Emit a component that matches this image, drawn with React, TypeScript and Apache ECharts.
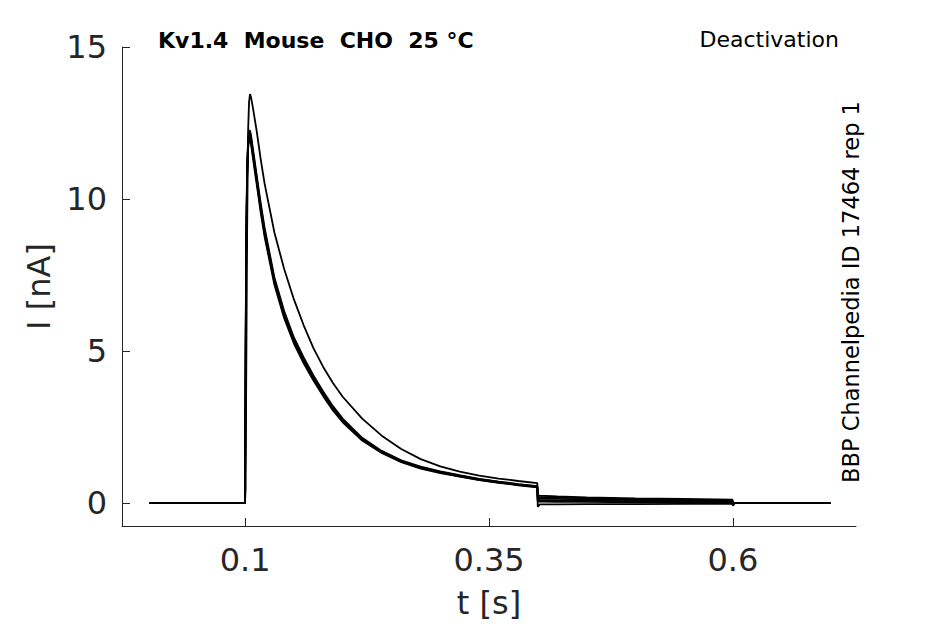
import React, { useEffect, useRef } from "react";
import * as echarts from "echarts";

// time samples (s) for the activation pulse + decay
const tPulse = [0.002, 0.0998, 0.1005, 0.101, 0.102, 0.103, 0.104, 0.105, 0.106, 0.108, 0.112, 0.116, 0.12, 0.13, 0.14, 0.15, 0.16, 0.17, 0.18, 0.19, 0.2, 0.22, 0.24, 0.26, 0.28, 0.3, 0.32, 0.34, 0.36, 0.38, 0.3995];
// time samples (s) for the deactivation step and return
const tTail = [0.4, 0.402, 0.42, 0.45, 0.5, 0.55, 0.5995, 0.6, 0.602, 0.7];

// currents (nA) per trace
const pulseU = [0, 0, 0.5, 3.5, 8.8, 12.2, 13.2, 13.45, 13.35, 13.0, 12.2, 11.3, 10.5, 8.9, 7.7, 6.7, 5.85, 5.1, 4.48, 3.95, 3.5, 2.78, 2.22, 1.78, 1.45, 1.21, 1.04, 0.91, 0.81, 0.73, 0.66];
const pulseB1 = [0, 0, 4.5, 8.0, 10.8, 11.8, 12.1, 12.15, 11.95, 11.5, 10.6, 9.7, 8.9, 7.3, 6.2, 5.35, 4.7, 4.12, 3.6, 3.12, 2.72, 2.1, 1.68, 1.38, 1.17, 1.02, 0.89, 0.78, 0.69, 0.61, 0.54];
const pulseB2 = [0, 0, 4.0, 7.6, 10.6, 11.65, 11.95, 11.95, 11.8, 11.35, 10.45, 9.55, 8.75, 7.18, 6.08, 5.25, 4.6, 4.03, 3.52, 3.05, 2.66, 2.06, 1.65, 1.35, 1.14, 0.99, 0.87, 0.76, 0.67, 0.59, 0.52];
const pulseB3 = [0, 0, 5.0, 8.4, 11.0, 11.95, 12.25, 12.25, 12.1, 11.65, 10.75, 9.85, 9.05, 7.42, 6.32, 5.45, 4.79, 4.2, 3.67, 3.19, 2.78, 2.15, 1.72, 1.41, 1.2, 1.05, 0.92, 0.8, 0.71, 0.63, 0.56];
const pulseB4 = [0, 0, 4.2, 7.8, 10.7, 11.75, 12.05, 12.1, 11.9, 11.45, 10.55, 9.65, 8.85, 7.26, 6.16, 5.31, 4.66, 4.09, 3.57, 3.09, 2.7, 2.08, 1.67, 1.37, 1.16, 1.01, 0.88, 0.77, 0.68, 0.6, 0.53];
const pulseB5 = [0, 0, 4.8, 8.2, 10.9, 11.85, 12.15, 12.15, 12.0, 11.55, 10.65, 9.75, 8.95, 7.34, 6.24, 5.38, 4.72, 4.14, 3.62, 3.14, 2.74, 2.11, 1.69, 1.39, 1.18, 1.03, 0.9, 0.79, 0.7, 0.62, 0.55];

const tailU = [0.15, 0.15, 0.14, 0.12, 0.1, 0.09, 0.08, 0.0, 0.0, 0.0];
const tailB1 = [0.26, 0.25, 0.22, 0.19, 0.16, 0.14, 0.12, 0.01, 0.0, 0.0];
const tailB2 = [0.2, 0.2, 0.18, 0.16, 0.13, 0.11, 0.1, 0.0, 0.0, 0.0];
const tailB3 = [0.1, 0.1, 0.09, 0.08, 0.07, 0.06, 0.05, 0.0, 0.0, 0.0];
const tailB4 = [0.05, 0.05, 0.04, 0.04, 0.03, 0.03, 0.02, -0.01, 0.0, 0.0];
const tailB5 = [-0.12, -0.04, -0.04, -0.03, -0.03, -0.02, -0.02, -0.08, 0.0, 0.0];

const xTicks = [0.1, 0.35, 0.6];
const yTicks = [0, 5, 10, 15];

const traces = [
  [pulseB1, tailB1],
  [pulseB2, tailB2],
  [pulseB3, tailB3],
  [pulseB4, tailB4],
  [pulseB5, tailB5],
  [pulseU, tailU],
];

const FONT = "DejaVu Sans";
const AX = "#262626";

export default function App() {
  const ref = useRef<HTMLDivElement>(null);
  useEffect(() => {
    if (!ref.current) return;
    const chart = echarts.init(ref.current, null, { renderer: "svg" });
    const series = traces.map(([p, tl]) => ({
      type: "line",
      showSymbol: false,
      symbol: "none",
      silent: true,
      lineStyle: { color: "#000", width: 1.8 },
      data: [
        ...tPulse.map((t, i) => [t, p[i]]),
        ...tTail.map((t, i) => [t, tl[i]]),
      ],
    }));
    chart.setOption({
      animation: false,
      backgroundColor: "#fff",
      grid: { left: 122, right: 89, top: 47, bottom: 98 },
      xAxis: {
        type: "value",
        min: -0.02625,
        max: 0.72625,
        name: "t [s]",
        nameLocation: "middle",
        nameGap: 61,
        nameTextStyle: { fontFamily: FONT, fontSize: 32, color: AX },
        axisLine: { show: true, onZero: false, lineStyle: { color: AX, width: 1 } },
        axisTick: { show: true, inside: true, length: 8, customValues: xTicks, lineStyle: { color: AX } },
        axisLabel: { customValues: xTicks, fontFamily: FONT, fontSize: 32, color: AX, margin: 18, formatter: (v: number) => String(v) },
        splitLine: { show: false },
      },
      yAxis: {
        type: "value",
        min: -0.75,
        max: 15,
        name: "I [nA]",
        nameLocation: "middle",
        nameGap: 66,
        nameTextStyle: { fontFamily: FONT, fontSize: 32, color: AX },
        axisLine: { show: true, onZero: false, lineStyle: { color: AX, width: 1 } },
        axisTick: { show: true, inside: true, length: 8, customValues: yTicks, lineStyle: { color: AX } },
        axisLabel: { customValues: yTicks, fontFamily: FONT, fontSize: 32, color: AX, margin: 15, formatter: (v: number) => String(v) },
        splitLine: { show: false },
      },
      graphic: [
        {
          type: "text",
          x: 158,
          y: 40,
          style: { text: "Kv1.4  Mouse  CHO  25 °C", fontFamily: FONT, fontWeight: "bold", fontSize: 22, fill: "#000", align: "left", verticalAlign: "middle" },
        },
        {
          type: "text",
          x: 839,
          y: 39,
          style: { text: "Deactivation", fontFamily: FONT, fontSize: 22, fill: "#000", align: "right", verticalAlign: "middle" },
        },
        {
          type: "text",
          x: 851,
          y: 292,
          rotation: Math.PI / 2,
          style: { text: "BBP Channelpedia ID 17464 rep 1", fontFamily: FONT, fontSize: 22.5, fill: "#000", align: "center", verticalAlign: "middle" },
        },
      ],
      series,
    });
    return () => chart.dispose();
  }, []);
  return <div ref={ref} style={{ position: "fixed", left: 0, top: 0, width: 945, height: 624 }} />;
}
